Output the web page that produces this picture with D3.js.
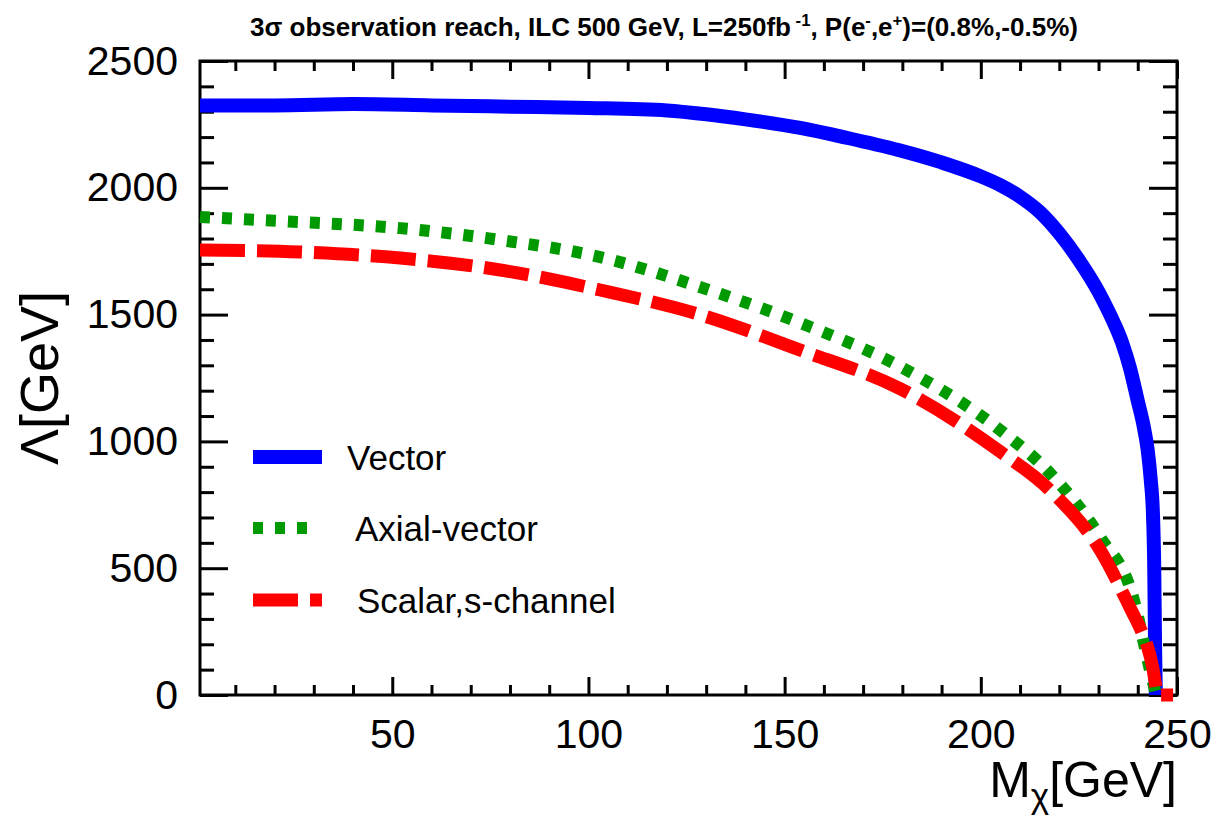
<!DOCTYPE html>
<html>
<head>
<meta charset="utf-8">
<script src="https://cdn.jsdelivr.net/npm/d3@7"></script>
<style>
  html, body { margin: 0; padding: 0; background: #fff; }
  svg text { font-family: "Liberation Sans", Arial, sans-serif; fill: #000; }
</style>
</head>
<body>
<div id="chart"></div>
<script>
// -----------------------------
// DATA
// -----------------------------
const vectorMass   = [1, 20, 40, 60, 80, 100, 120, 130, 140, 154, 165, 179, 190, 200, 205, 210, 215, 220, 225, 230, 232, 234, 236, 238, 240, 241.5, 242.5, 243.3, 243.9, 244.2, 244.4, 244.6];
const vectorLambda = [2325, 2325, 2330, 2325, 2320, 2315, 2305, 2290, 2270, 2236, 2200, 2149, 2100, 2045, 2010, 1965, 1905, 1820, 1715, 1590, 1530, 1465, 1390, 1290, 1160, 1060, 970, 850, 702, 500, 205, 0];

const axialMass   = [1, 10, 26.5, 52, 77.5, 103, 128.4, 154, 179.4, 204.9, 217.6, 230.4, 238.8, 243.1, 244.7];
const axialLambda = [1885, 1878, 1865, 1841, 1794, 1727, 1609, 1467, 1295, 1045, 875, 623, 386, 99, 0];

const scalarMass   = [1, 26.5, 52, 77.5, 103, 128.4, 154, 179.4, 204.9, 217.6, 230.4, 238.5, 241, 242.5, 243.8, 244.6, 245, 249];
const scalarLambda = [1755, 1747, 1723, 1676, 1597, 1500, 1360, 1208, 960, 808, 572, 330, 250, 190, 110, 35, 0, 0];

const seriesNames  = ["Vector", "Axial-vector", "Scalar,s-channel"];
const xTickValues  = [50, 100, 150, 200, 250];
const yTickValues  = [0, 500, 1000, 1500, 2000, 2500];

// -----------------------------
// SVG + SCALES
// -----------------------------
const width = 1218, height = 820;
const plot = { left: 200, right: 1177, top: 61, bottom: 695 };

const svg = d3.select("#chart").append("svg")
    .attr("width", width)
    .attr("height", height);

const x = d3.scaleLinear().domain([1, 250]).range([plot.left, plot.right]);
const y = d3.scaleLinear().domain([0, 2500]).range([plot.bottom, plot.top]);

const xMinor = d3.range(10, 251, 10).filter(v => v % 50 !== 0);
const yMinor = d3.range(100, 2500, 100).filter(v => v % 500 !== 0);

// -----------------------------
// AXES (ticks point inwards, on all four sides)
// -----------------------------
function addAxis(axis, tx, ty, showLabels) {
    const g = svg.append("g")
        .attr("transform", `translate(${tx},${ty})`)
        .call(axis);
    g.select(".domain").remove();
    g.selectAll("line").attr("stroke", "#000").attr("stroke-width", 3);
    if (!showLabels) g.selectAll("text").remove();
    return g;
}

const fmt = d3.format("d");

// bottom
const bottomMajor = addAxis(d3.axisBottom(x).tickValues(xTickValues).tickFormat(fmt).tickSize(-18).tickPadding(24), 0, plot.bottom, true);
bottomMajor.selectAll("text").attr("font-size", 41).attr("font-family", "Liberation Sans, Arial");
addAxis(d3.axisBottom(x).tickValues(xMinor).tickSize(-10), 0, plot.bottom, false);
// top
addAxis(d3.axisTop(x).tickValues(xTickValues).tickSize(-18), 0, plot.top, false);
addAxis(d3.axisTop(x).tickValues(xMinor).tickSize(-10), 0, plot.top, false);
// left
const leftMajor = addAxis(d3.axisLeft(y).tickValues(yTickValues).tickFormat(fmt).tickSize(-28).tickPadding(22), plot.left, 0, true);
leftMajor.selectAll("text").attr("font-size", 41).attr("font-family", "Liberation Sans, Arial");
addAxis(d3.axisLeft(y).tickValues(yMinor).tickSize(-14), plot.left, 0, false);
// right
addAxis(d3.axisRight(y).tickValues(yTickValues).tickSize(-28), plot.right, 0, false);
addAxis(d3.axisRight(y).tickValues(yMinor).tickSize(-14), plot.right, 0, false);

// frame
svg.append("rect")
    .attr("x", plot.left)
    .attr("y", plot.top)
    .attr("width", plot.right - plot.left)
    .attr("height", plot.bottom - plot.top)
    .attr("fill", "none")
    .attr("stroke", "#000")
    .attr("stroke-width", 3);

// -----------------------------
// CURVES
// -----------------------------
const line = d3.line()
    .x(d => x(d[0]))
    .y(d => y(d[1]))
    .curve(d3.curveMonotoneX);

const series = [
    { name: seriesNames[0], pts: d3.zip(vectorMass, vectorLambda), color: "#0000ff", width: 14, dash: null },
    { name: seriesNames[1], pts: d3.zip(axialMass, axialLambda), color: "#009900", width: 12, dash: "10,12" },
    { name: seriesNames[2], pts: d3.zip(scalarMass, scalarLambda), color: "#ff0000", width: 13, dash: "45,12" }
];

svg.append("g").selectAll("path")
    .data(series)
    .enter()
    .append("path")
    .attr("fill", "none")
    .attr("stroke", d => d.color)
    .attr("stroke-width", d => d.width)
    .attr("stroke-dasharray", d => d.dash)
    .attr("d", d => line(d.pts));

// -----------------------------
// LEGEND
// -----------------------------
const legendRows = [
    { y: 457, x2: 322, tx: 347 },
    { y: 528, x2: 312, tx: 355 },
    { y: 600, x2: 322, tx: 357 }
];

const legend = svg.append("g").selectAll("g")
    .data(series)
    .enter()
    .append("g");

legend.append("line")
    .attr("x1", 253)
    .attr("x2", (d, i) => legendRows[i].x2)
    .attr("y1", (d, i) => legendRows[i].y)
    .attr("y2", (d, i) => legendRows[i].y)
    .attr("stroke", d => d.color)
    .attr("stroke-width", d => d.width)
    .attr("stroke-dasharray", d => d.dash);

legend.append("text")
    .attr("x", (d, i) => legendRows[i].tx)
    .attr("y", (d, i) => legendRows[i].y)
    .attr("dy", "0.36em")
    .attr("font-size", 35)
    .text(d => d.name);

// -----------------------------
// TITLES
// -----------------------------
const title = svg.append("text")
    .attr("x", 250)
    .attr("y", 36)
    .attr("font-size", 25)
    .attr("font-weight", "bold")
    .attr("textLength", 828)
    .attr("lengthAdjust", "spacingAndGlyphs")
    .style("font-family", "'Liberation Sans Narrow', 'Liberation Sans', Arial");
title.append("tspan").text("3σ observation reach, ILC 500 GeV, L=250fb");
title.append("tspan").attr("font-size", 16).attr("dy", -10).text(" -1");
title.append("tspan").attr("dy", 10).text(",  P(e");
title.append("tspan").attr("font-size", 16).attr("dy", -10).text("-");
title.append("tspan").attr("dy", 10).text(",e");
title.append("tspan").attr("font-size", 16).attr("dy", -10).text("+");
title.append("tspan").attr("dy", 10).text(")=(0.8%,-0.5%)");

svg.append("text")
    .attr("transform", `translate(58,378) rotate(-90)`)
    .attr("text-anchor", "middle")
    .attr("font-size", 54)
    .text("Λ[GeV]");

const xTitle = svg.append("text")
    .attr("x", plot.right)
    .attr("y", 797)
    .attr("text-anchor", "end")
    .attr("font-size", 50);
xTitle.append("tspan").text("M");
xTitle.append("tspan").attr("font-size", 35).attr("dy", 11).text("χ");
xTitle.append("tspan").attr("dy", -11).text("[GeV]");
</script>
</body>
</html>
